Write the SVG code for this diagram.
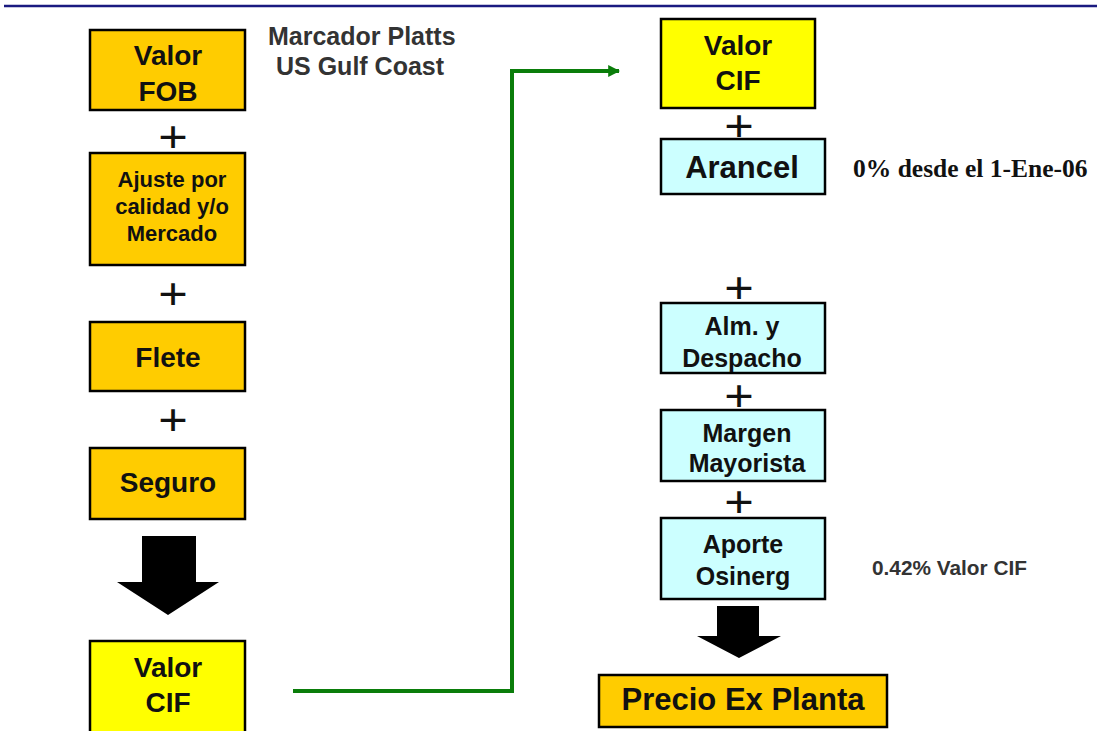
<svg xmlns="http://www.w3.org/2000/svg" width="1097" height="731" viewBox="0 0 1097 731">
<style>
.box{stroke:#000;stroke-width:2.5}
.org{fill:#FFCC00}
.yel{fill:#FFFF00}
.cyn{fill:#CCFFFF}
.t{font-family:"Liberation Sans",Arial,sans-serif;font-weight:bold;fill:#111;text-anchor:middle}
.plus{font-family:"Liberation Sans",Arial,sans-serif;font-size:44px;fill:#111;text-anchor:middle}
.note{font-family:"Liberation Sans",Arial,sans-serif;font-weight:bold;fill:#333}
.big{fill:#000}
</style>
<defs>
<marker id="gh" viewBox="0 0 10 10" refX="9" refY="5" markerWidth="3" markerHeight="3" orient="auto" markerUnits="strokeWidth">
<path d="M0,0 L10,5 L0,10 Z" fill="#0A7D0A"/>
</marker>
</defs>
<line x1="4" y1="6" x2="1097" y2="6" stroke="#1A1A80" stroke-width="2.5"/>

<g id="connectors">
<polyline points="293,691 512,691 512,71 619,71" fill="none" stroke="#0A7D0A" stroke-width="4" marker-end="url(#gh)"/>
<path class="big" d="M142,536 L196,536 L196,582 L219,582 L168,615 L117,582 L142,582 Z"/>
<path class="big" d="M717,606 L759,606 L759,636 L781,636 L739,658 L697,636 L717,636 Z"/>
</g>

<g id="valor-fob">
<rect class="box org" x="90" y="30" width="155" height="80"/>
<text class="t" x="168" y="65" font-size="28">Valor</text>
<text class="t" x="168" y="101" font-size="28">FOB</text>
</g>
<g id="marcador">
<text class="note" x="268" y="45" font-size="25">Marcador Platts</text>
<text class="note" x="276" y="75" font-size="25">US Gulf Coast</text>
</g>
<text class="plus" x="173" y="152" transform="translate(173 0) scale(1.15 1) translate(-173 0)">+</text>
<g id="ajuste">
<rect class="box org" x="90" y="153" width="155" height="112"/>
<text class="t" x="172" y="187" font-size="22">Ajuste por</text>
<text class="t" x="172" y="214" font-size="22">calidad y/o</text>
<text class="t" x="172" y="241" font-size="22">Mercado</text>
</g>
<text class="plus" x="173" y="309" transform="translate(173 0) scale(1.15 1) translate(-173 0)">+</text>
<g id="flete">
<rect class="box org" x="90" y="322" width="155" height="69"/>
<text class="t" x="168" y="367" font-size="28">Flete</text>
</g>
<text class="plus" x="173" y="435" transform="translate(173 0) scale(1.15 1) translate(-173 0)">+</text>
<g id="seguro">
<rect class="box org" x="90" y="448" width="155" height="71"/>
<text class="t" x="168" y="492" font-size="28">Seguro</text>
</g>
<g id="valor-cif-left">
<rect class="box yel" x="90" y="641" width="155" height="95"/>
<text class="t" x="168" y="677" font-size="28">Valor</text>
<text class="t" x="168" y="712" font-size="28">CIF</text>
</g>

<g id="valor-cif-right">
<rect class="box yel" x="661" y="19" width="154" height="89"/>
<text class="t" x="738" y="55" font-size="28">Valor</text>
<text class="t" x="738" y="90" font-size="28">CIF</text>
</g>
<text class="plus" x="739" y="141" transform="translate(739 0) scale(1.15 1) translate(-739 0)">+</text>
<g id="arancel">
<rect class="box cyn" x="661" y="139" width="164" height="55"/>
<text class="t" x="742" y="178" font-size="31">Arancel</text>
</g>
<text x="853" y="177" font-family="Liberation Serif,'Times New Roman',serif" font-weight="bold" font-size="25.5" fill="#111">0% desde el 1-Ene-06</text>
<text class="plus" x="739" y="303" transform="translate(739 0) scale(1.15 1) translate(-739 0)">+</text>
<g id="alm">
<rect class="box cyn" x="661" y="303" width="164" height="70"/>
<text class="t" x="742" y="335" font-size="25">Alm. y</text>
<text class="t" x="742" y="367" font-size="25">Despacho</text>
</g>
<text class="plus" x="739" y="411" transform="translate(739 0) scale(1.15 1) translate(-739 0)">+</text>
<g id="margen">
<rect class="box cyn" x="661" y="410" width="164" height="71"/>
<text class="t" x="747" y="442" font-size="25">Margen</text>
<text class="t" x="747" y="472" font-size="25">Mayorista</text>
</g>
<text class="plus" x="739" y="517" transform="translate(739 0) scale(1.15 1) translate(-739 0)">+</text>
<g id="aporte">
<rect class="box cyn" x="661" y="518" width="164" height="81"/>
<text class="t" x="743" y="553" font-size="25">Aporte</text>
<text class="t" x="743" y="585" font-size="25">Osinerg</text>
</g>
<text class="note" x="872" y="575" font-size="20.8">0.42% Valor CIF</text>
<g id="precio">
<rect class="box org" x="599" y="675" width="288" height="52"/>
<text class="t" x="743" y="710" font-size="31">Precio Ex Planta</text>
</g>
</svg>
